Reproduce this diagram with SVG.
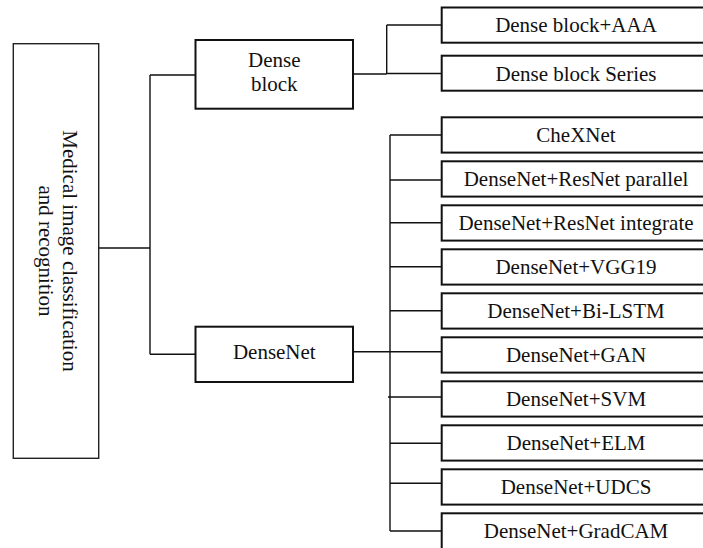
<svg xmlns="http://www.w3.org/2000/svg" width="703" height="548" viewBox="0 0 703 548">
<style>
.box{fill:#fff;stroke:#111;stroke-width:2}
.rbox{fill:#fff;stroke:#111;stroke-width:2}
.big{fill:#fff;stroke:#222;stroke-width:1.4}
.t{font-family:"Liberation Serif","Times New Roman",serif;font-size:21px;fill:#111;text-anchor:middle}
.c{fill:none;stroke:#111;stroke-width:1.4}
</style>
<rect width="703" height="548" fill="#fff"/>
<g id="connectors">
<path class="c" d="M98.7,248 H150 M150,75 V354.3 M150,75 H195.5 M150,354.3 H195.5"/>
<path class="c" d="M353,74 H386.7 M386.7,25 V74 M386.7,25 H441.7 M386.7,73.5 H441.7"/>
<path class="c" d="M353,351.7 H441.7 M390,135 V531 M390,135 H441.7 M390,180 H441.7 M390,222.7 H441.7 M390,266.7 H441.7 M390,310.7 H441.7 M388,397 H441.7 M390,443.3 H441.7 M390,483.3 H441.7 M390,531 H441.7"/>
</g>
<g id="root">
<rect class="big" x="13.3" y="43.7" width="85.4" height="414.6"/>
<text class="t" transform="translate(63,251) rotate(90)">Medical image classification</text>
<text class="t" transform="translate(38.5,251) rotate(90)">and recognition</text>
</g>
<g id="denseblock">
<rect class="box" x="195.5" y="40" width="157.5" height="68.7"/>
<text class="t" x="274.3" y="66.7">Dense</text>
<text class="t" x="274.3" y="90.7">block</text>
</g>
<g id="densenet">
<rect class="box" x="195.5" y="326.7" width="157.5" height="55.3"/>
<text class="t" x="274.3" y="359">DenseNet</text>
</g>
<g id="db-aaa"><rect class="rbox" x="441.7" y="7.5" width="280" height="35.2"/><text class="t" x="576" y="32.3">Dense block+AAA</text></g>
<g id="db-series"><rect class="rbox" x="441.7" y="55.7" width="280" height="35"/><text class="t" x="576" y="80.5">Dense block Series</text></g>
<g id="chexnet"><rect class="rbox" x="441.7" y="117.3" width="280" height="35.3"/><text class="t" x="576" y="142.3">CheXNet</text></g>
<g id="parallel"><rect class="rbox" x="441.7" y="161.3" width="280" height="35.3"/><text class="t" x="576" y="186.3">DenseNet+ResNet parallel</text></g>
<g id="integrate"><rect class="rbox" x="441.7" y="205.3" width="280" height="35.3"/><text class="t" x="576" y="230.3">DenseNet+ResNet integrate</text></g>
<g id="vgg19"><rect class="rbox" x="441.7" y="249.3" width="280" height="35.3"/><text class="t" x="576" y="274.3">DenseNet+VGG19</text></g>
<g id="bilstm"><rect class="rbox" x="441.7" y="293.3" width="280" height="35.3"/><text class="t" x="576" y="318.3">DenseNet+Bi-LSTM</text></g>
<g id="gan"><rect class="rbox" x="441.7" y="337.3" width="280" height="35.3"/><text class="t" x="576" y="362.3">DenseNet+GAN</text></g>
<g id="svm"><rect class="rbox" x="441.7" y="381.3" width="280" height="35.3"/><text class="t" x="576" y="406.3">DenseNet+SVM</text></g>
<g id="elm"><rect class="rbox" x="441.7" y="425.3" width="280" height="35.3"/><text class="t" x="576" y="450.3">DenseNet+ELM</text></g>
<g id="udcs"><rect class="rbox" x="441.7" y="469.3" width="280" height="35.3"/><text class="t" x="576" y="494.3">DenseNet+UDCS</text></g>
<g id="gradcam"><rect class="rbox" x="441.7" y="513.3" width="280" height="60"/><text class="t" x="576" y="538.3">DenseNet+GradCAM</text></g>
</svg>
